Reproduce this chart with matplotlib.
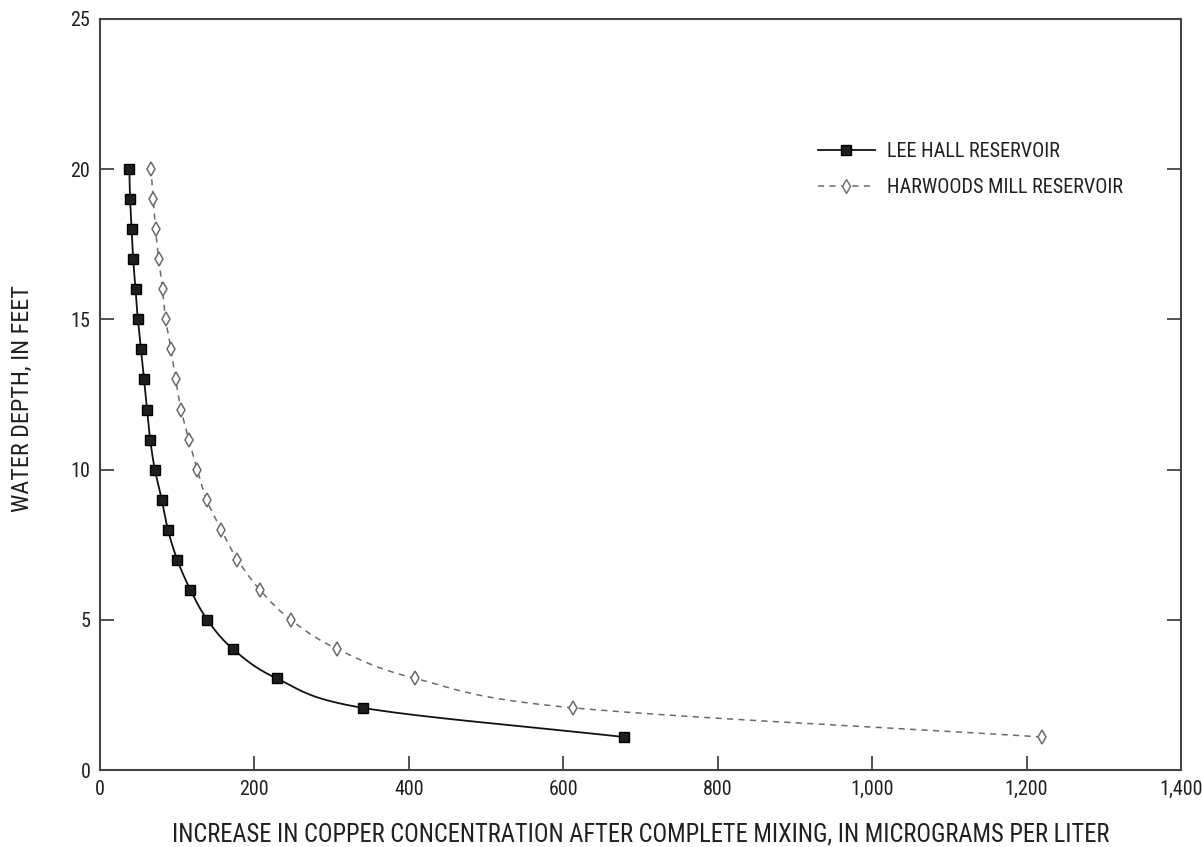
import numpy as np
import matplotlib
matplotlib.use("Agg")
import matplotlib.pyplot as plt
from matplotlib.lines import Line2D

plt.rcParams['font.family'] = ['Roboto Condensed', 'DejaVu Sans']

depth = [1.1, 2.07, 3.05, 4.03, 5, 6, 7, 8, 9, 10, 11, 12, 13, 14, 15, 16, 17, 18, 19, 20]
lee_hall = [678, 340, 229, 172, 139, 117, 100, 88, 80, 71, 65, 61, 57, 53, 49, 46, 43, 41, 39, 38]
harwoods = [1220, 613, 408, 307, 247, 207, 178, 157, 138, 126, 115, 105, 98, 92, 85, 81, 76, 72, 69, 66]

xticks = [0, 200, 400, 600, 800, 1000, 1200, 1400]
xticklabels = ['0', '200', '400', '600', '800', '1,000', '1,200', '1,400']
yticks = [0, 5, 10, 15, 20, 25]

xlabel = 'INCREASE IN COPPER CONCENTRATION AFTER COMPLETE MIXING, IN MICROGRAMS PER LITER'
ylabel = 'WATER DEPTH, IN FEET'
series_names = ['LEE HALL RESERVOIR', 'HARWOODS MILL RESERVOIR']


def catmull_rom(x, y, n=20):
    pts = np.column_stack([x, y]).astype(float)
    p = np.vstack([2 * pts[0] - pts[1], pts, 2 * pts[-1] - pts[-2]])
    out = []
    t = np.linspace(0, 1, n, endpoint=False)[:, None]
    for i in range(1, len(p) - 2):
        p0, p1, p2, p3 = p[i - 1], p[i], p[i + 1], p[i + 2]
        seg = 0.5 * ((2 * p1) + (-p0 + p2) * t + (2 * p0 - 5 * p1 + 4 * p2 - p3) * t ** 2
                     + (-p0 + 3 * p1 - 3 * p2 + p3) * t ** 3)
        out.append(seg)
    out.append(pts[-1][None, :])
    out = np.vstack(out)
    return out[:, 0], out[:, 1]


fig = plt.figure(figsize=(12.02, 8.47), dpi=100)
renderer = fig.canvas.get_renderer()


def fit_size(text, target_px, base=14):
    t = fig.text(0, 0, text, fontsize=base)
    w = t.get_window_extent(renderer=renderer).width
    t.remove()
    return base * target_px / w


fs_xlabel = fit_size(xlabel, 942)
fs_ylabel = fit_size(ylabel, 227)
fs_tick = 14.5
fs_leg = fit_size(series_names[1], 238)

ax = fig.add_axes([100 / 1202, 77 / 847, 1081 / 1202, 751 / 847])

axis_col = '#444444'
text_col = '#231f20'
lee_col = '#111111'
har_col = '#6a6a6a'
dash = (0, (4, 3.5))

lx, ly = catmull_rom(np.array(lee_hall) / 1400.0, np.array(depth) / 25.0)
ax.plot(lx * 1400, ly * 25, color=lee_col, lw=1.3, zorder=2)
ax.plot(lee_hall, depth, linestyle='none', marker='s', markersize=7.5,
        markerfacecolor='#1e1e1e', markeredgecolor='#000000', markeredgewidth=1.0, zorder=3)

hx, hy = catmull_rom(np.array(harwoods) / 1400.0, np.array(depth) / 25.0)
ax.plot(hx * 1400, hy * 25, color=har_col, lw=1.1, linestyle=dash, zorder=2)
ax.plot(harwoods, depth, linestyle='none', marker='d', markersize=7.5,
        markerfacecolor='white', markeredgecolor=har_col, markeredgewidth=1.1, zorder=3)

ax.set_xlim(0, 1400)
ax.set_ylim(0, 25)
ax.set_xticks(xticks)
ax.set_xticklabels(xticklabels)
ax.set_yticks(yticks)

for s in ax.spines.values():
    s.set_color(axis_col)
    s.set_linewidth(1.5)

ax.tick_params(axis='both', direction='in', length=10, width=1.3, color=axis_col,
               labelsize=fs_tick, labelcolor=text_col)
ax.tick_params(axis='y', right=True, pad=7)
ax.tick_params(axis='x', pad=7)

ax.set_xlabel(xlabel, fontsize=fs_xlabel, color=text_col, va='center')
ax.xaxis.set_label_coords(0.5, (770 - 834) / 751)
ax.set_ylabel(ylabel, fontsize=fs_ylabel, color=text_col, va='center')
ax.yaxis.set_label_coords((22 - 100) / 1081, 0.495)

handles = [
    Line2D([], [], color=lee_col, lw=1.3, marker='s', markersize=7.5,
           markerfacecolor='#1e1e1e', markeredgecolor='#000000'),
    Line2D([], [], color=har_col, lw=1.1, linestyle=dash, marker='d', markersize=7.5,
           markerfacecolor='white', markeredgecolor=har_col),
]
ax.legend(handles, series_names,
          loc='upper left', bbox_to_anchor=((818 - 100) / 1081, (770 - 142) / 751),
          borderaxespad=0, borderpad=0, frameon=False,
          prop={'size': fs_leg}, handlelength=2.8, handletextpad=0.6, labelspacing=0.85,
          labelcolor=text_col)

fig.savefig('out.png', dpi=100)
